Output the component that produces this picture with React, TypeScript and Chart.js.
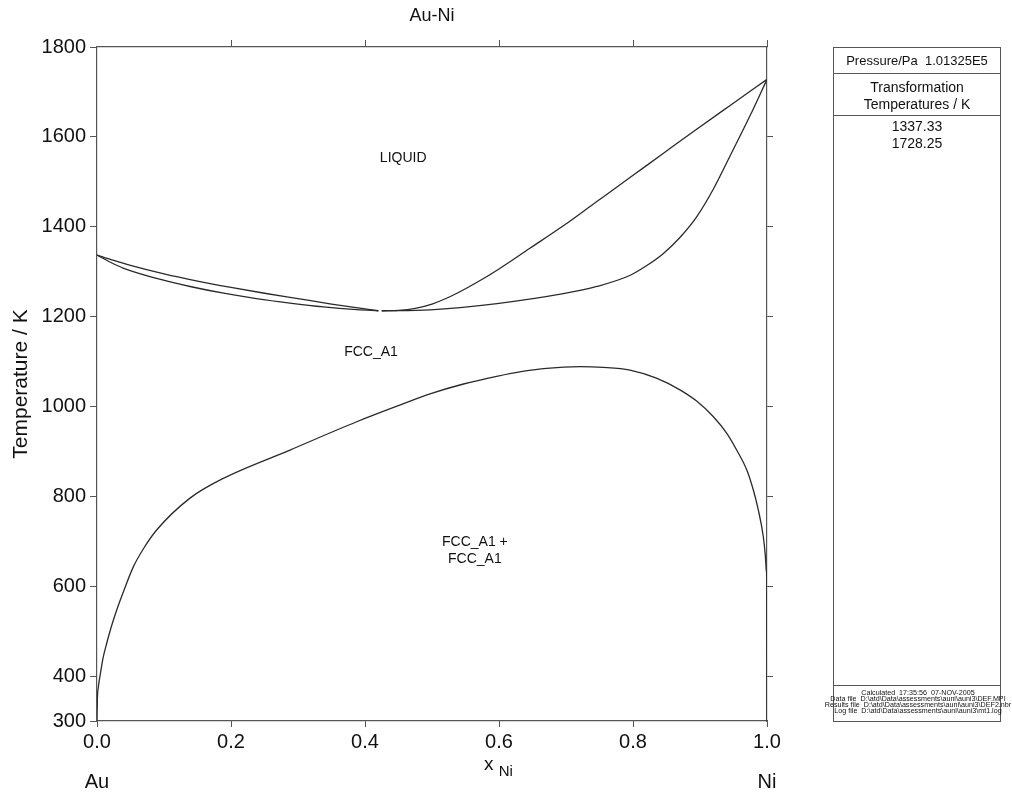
import React, { useEffect, useRef } from "react";
import { Chart, registerables } from "chart.js";

Chart.register(...registerables);

const FONT = "'Liberation Sans', Arial, Helvetica, sans-serif";

// ---- Data (x = mole fraction Ni, T in K) ----
const liqLeftX = [0, 0.025, 0.05, 0.1, 0.15, 0.2, 0.25, 0.3, 0.35, 0.4, 0.42];
const liqLeftT = [1337, 1325, 1314, 1295, 1279, 1265, 1252, 1240, 1228, 1217, 1213];

const solLeftX = [0, 0.02, 0.039, 0.089, 0.139, 0.189, 0.238, 0.288, 0.338, 0.388, 0.42];
const solLeftT = [1337, 1321, 1308, 1285, 1267, 1252, 1240, 1230, 1221.5, 1215.5, 1213];

const liqRightX = [0.425, 0.45, 0.475, 0.5, 0.525, 0.55, 0.575, 0.6, 0.646, 0.696, 0.746, 0.796, 0.845, 0.895, 0.945, 1.0];
const liqRightT = [1213, 1214, 1218.5, 1228, 1243, 1262, 1283, 1306, 1352, 1402, 1456, 1510, 1563, 1617, 1670, 1728];

const solRightX = [0.425, 0.497, 0.597, 0.696, 0.746, 0.796, 0.82, 0.845, 0.87, 0.895, 0.92, 0.945, 0.975, 1.0];
const solRightT = [1213, 1215, 1229, 1251, 1267, 1292, 1313, 1340, 1376, 1422, 1484, 1558, 1648, 1728];

const gapX = [0, 0.0005, 0.002, 0.0045, 0.009, 0.0145, 0.021, 0.0294, 0.04, 0.0542, 0.07, 0.089, 0.1388, 0.1886, 0.288, 0.3876, 0.45, 0.497, 0.547, 0.5966, 0.635, 0.671, 0.721, 0.755, 0.7955, 0.835, 0.87, 0.895, 0.92, 0.94, 0.9547, 0.97, 0.9796, 0.987, 0.9945, 0.9975, 0.999, 0.9997, 1.0];
const gapT = [300, 345, 375, 400, 440, 473, 508, 547, 590, 643, 685, 725, 796, 840, 903, 966, 1002, 1028, 1050, 1067, 1078, 1085, 1088.5, 1087, 1081, 1063, 1037, 1012, 977, 940, 903, 858, 814, 770, 710, 668, 635, 605, 300];

const xTicks = [0, 0.2, 0.4, 0.6, 0.8, 1.0];
const xTopTicks = [0.2, 0.4, 0.6, 0.8, 1.0];
const yTicks = [300, 400, 600, 800, 1000, 1200, 1400, 1600, 1800];
const yRightTicks = [400, 600, 800, 1000, 1200, 1400, 1600];

const regionLabels = ["LIQUID", "FCC_A1", "FCC_A1 +", "FCC_A1"];
const regionX = [0.457, 0.409, 0.564, 0.564];
const regionT = [1553, 1121, 698, 661];

const transTemps = ["1337.33", "1728.25"];
const footerLines = [
  "Calculated  17:35:56  07-NOV-2005",
  "Data file  D:\\atd\\Data\\assessments\\auni\\auni3\\DEF.MPI",
  "Results file  D:\\atd\\Data\\assessments\\auni\\auni3\\DEF2.nbr",
  "Log file  D:\\atd\\Data\\assessments\\auni\\auni3\\mt1.log",
];

const curves = [
  [liqLeftX, liqLeftT],
  [solLeftX, solLeftT],
  [liqRightX, liqRightT],
  [solRightX, solRightT],
  [gapX, gapT],
];

const AXIS = "#555";
const LINE = "#2a2a2a";

const textPlugin = {
  id: "textPlugin",
  afterDraw(chart: any) {
    const ctx = chart.ctx;
    const xs = chart.scales.x;
    const ys = chart.scales.y;
    ctx.save();
    ctx.fillStyle = "#111";
    ctx.textAlign = "center";
    ctx.textBaseline = "middle";
    // title
    ctx.font = `18px ${FONT}`;
    ctx.fillText("Au-Ni", (chart.chartArea.left + chart.chartArea.right) / 2, 16);
    // region labels
    ctx.font = `14px ${FONT}`;
    regionLabels.forEach((t, i) => {
      ctx.fillText(t, xs.getPixelForValue(regionX[i]), ys.getPixelForValue(regionT[i]));
    });
    // x axis title with subscript
    ctx.font = `19px ${FONT}`;
    ctx.textAlign = "left";
    const xPos = 484;
    ctx.fillText("x", xPos, 765);
    const w = ctx.measureText("x ").width;
    ctx.font = `15px ${FONT}`;
    ctx.fillText("Ni", xPos + w, 772);
    // element labels
    ctx.textAlign = "center";
    ctx.font = `20px ${FONT}`;
    ctx.fillText("Au", xs.getPixelForValue(0), 782);
    ctx.fillText("Ni", xs.getPixelForValue(1), 782);
    ctx.restore();
  },
};

function zeroPad(s: any) {
  s.paddingTop = 0;
  s.paddingBottom = 0;
  s.paddingLeft = 0;
  s.paddingRight = 0;
}

export default function App() {
  const ref = useRef<HTMLCanvasElement | null>(null);

  useEffect(() => {
    if (!ref.current) return;
    const chart = new Chart(ref.current, {
      type: "scatter",
      data: {
        datasets: curves.map(([xa, ta]) => ({
          data: xa.map((x, i) => ({ x, y: ta[i] })),
          showLine: true,
          pointRadius: 0,
          borderColor: LINE,
          borderWidth: 1.3,
          cubicInterpolationMode: "monotone",
          fill: false,
        })),
      },
      options: {
        responsive: false,
        animation: false,
        events: [],
        layout: { padding: { top: 47, right: 245, left: 0, bottom: 0 } },
        plugins: { legend: { display: false }, tooltip: { enabled: false } },
        scales: {
          x: {
            type: "linear",
            position: "bottom",
            min: 0,
            max: 1,
            afterBuildTicks: (s: any) => {
              s.ticks = xTicks.map((v) => ({ value: v }));
            },
            ticks: {
              callback: (v: any) => Number(v).toFixed(1),
              font: { family: FONT, size: 20 },
              color: "#111",
              padding: 3,
              maxRotation: 0,
              autoSkip: false,
            },
            grid: { drawOnChartArea: false, drawTicks: true, tickLength: 6, color: AXIS },
            border: { display: true, color: AXIS, width: 1.2 },
            afterFit: (s: any) => {
              s.height = 73;
              zeroPad(s);
            },
          },
          xTop: {
            type: "linear",
            position: "top",
            min: 0,
            max: 1,
            afterBuildTicks: (s: any) => {
              s.ticks = xTopTicks.map((v) => ({ value: v }));
            },
            ticks: { display: false },
            grid: { drawOnChartArea: false, drawTicks: true, tickLength: 7, color: AXIS },
            border: { display: true, color: AXIS, width: 1.2 },
            afterFit: (s: any) => {
              s.height = 0;
              zeroPad(s);
            },
          },
          y: {
            type: "linear",
            position: "left",
            min: 300,
            max: 1800,
            afterBuildTicks: (s: any) => {
              s.ticks = yTicks.map((v) => ({ value: v }));
            },
            ticks: {
              callback: (v: any) => String(v),
              font: { family: FONT, size: 20 },
              color: "#111",
              padding: 4,
              autoSkip: false,
            },
            title: {
              display: true,
              text: "Temperature / K",
              font: { family: FONT, size: 21 },
              color: "#111",
              padding: { top: 9, bottom: 0 },
            },
            grid: { drawOnChartArea: false, drawTicks: true, tickLength: 7, color: AXIS },
            border: { display: true, color: AXIS, width: 1.2 },
            afterFit: (s: any) => {
              s.width = 97;
              zeroPad(s);
            },
          },
          yRight: {
            type: "linear",
            position: "right",
            min: 300,
            max: 1800,
            afterBuildTicks: (s: any) => {
              s.ticks = yRightTicks.map((v) => ({ value: v }));
            },
            ticks: { display: false },
            grid: { drawOnChartArea: false, drawTicks: true, tickLength: 6, color: AXIS },
            border: { display: true, color: AXIS, width: 1.2 },
            afterFit: (s: any) => {
              s.width = 0;
              zeroPad(s);
            },
          },
        },
      } as any,
      plugins: [textPlugin],
    });
    return () => chart.destroy();
  }, []);

  const boxLeft = 833;
  const boxWidth = 168;
  const line = (top: number) => (
    <div style={{ position: "absolute", left: 0, top: top, width: "100%", height: 0, borderTop: "1px solid #555" }} />
  );

  return (
    <div style={{ position: "absolute", left: 0, top: 0, width: 1012, height: 794, background: "#fff", fontFamily: FONT }}>
      <canvas ref={ref} width={1012} height={794} style={{ position: "absolute", left: 0, top: 0 }} />
      <div
        style={{
          position: "absolute",
          left: boxLeft,
          top: 47,
          width: boxWidth,
          height: 675,
          border: "1px solid #555",
          boxSizing: "border-box",
          color: "#111",
        }}
      >
        <div style={{ position: "absolute", left: 0, top: 5, width: "100%", textAlign: "center", fontSize: 13, lineHeight: "16px", whiteSpace: "pre" }}>
          {"Pressure/Pa  1.01325E5"}
        </div>
        {line(25)}
        <div style={{ position: "absolute", left: 0, top: 31, width: "100%", textAlign: "center", fontSize: 14, lineHeight: "17px" }}>
          Transformation
          <br />
          Temperatures / K
        </div>
        {line(67)}
        <div style={{ position: "absolute", left: 0, top: 70, width: "100%", textAlign: "center", fontSize: 14, lineHeight: "17px" }}>
          {transTemps.map((t) => (
            <div key={t}>{t}</div>
          ))}
        </div>
        {line(637)}
        <div
          style={{
            position: "absolute",
            left: -30,
            top: 642,
            width: boxWidth + 60,
            textAlign: "center",
            fontSize: 6.5,
            lineHeight: "6px",
            whiteSpace: "pre",
            transform: "scaleX(1.1)",
            transformOrigin: "50% 0",
          }}
        >
          {footerLines.map((t) => (
            <div key={t}>{t}</div>
          ))}
        </div>
      </div>
    </div>
  );
}
